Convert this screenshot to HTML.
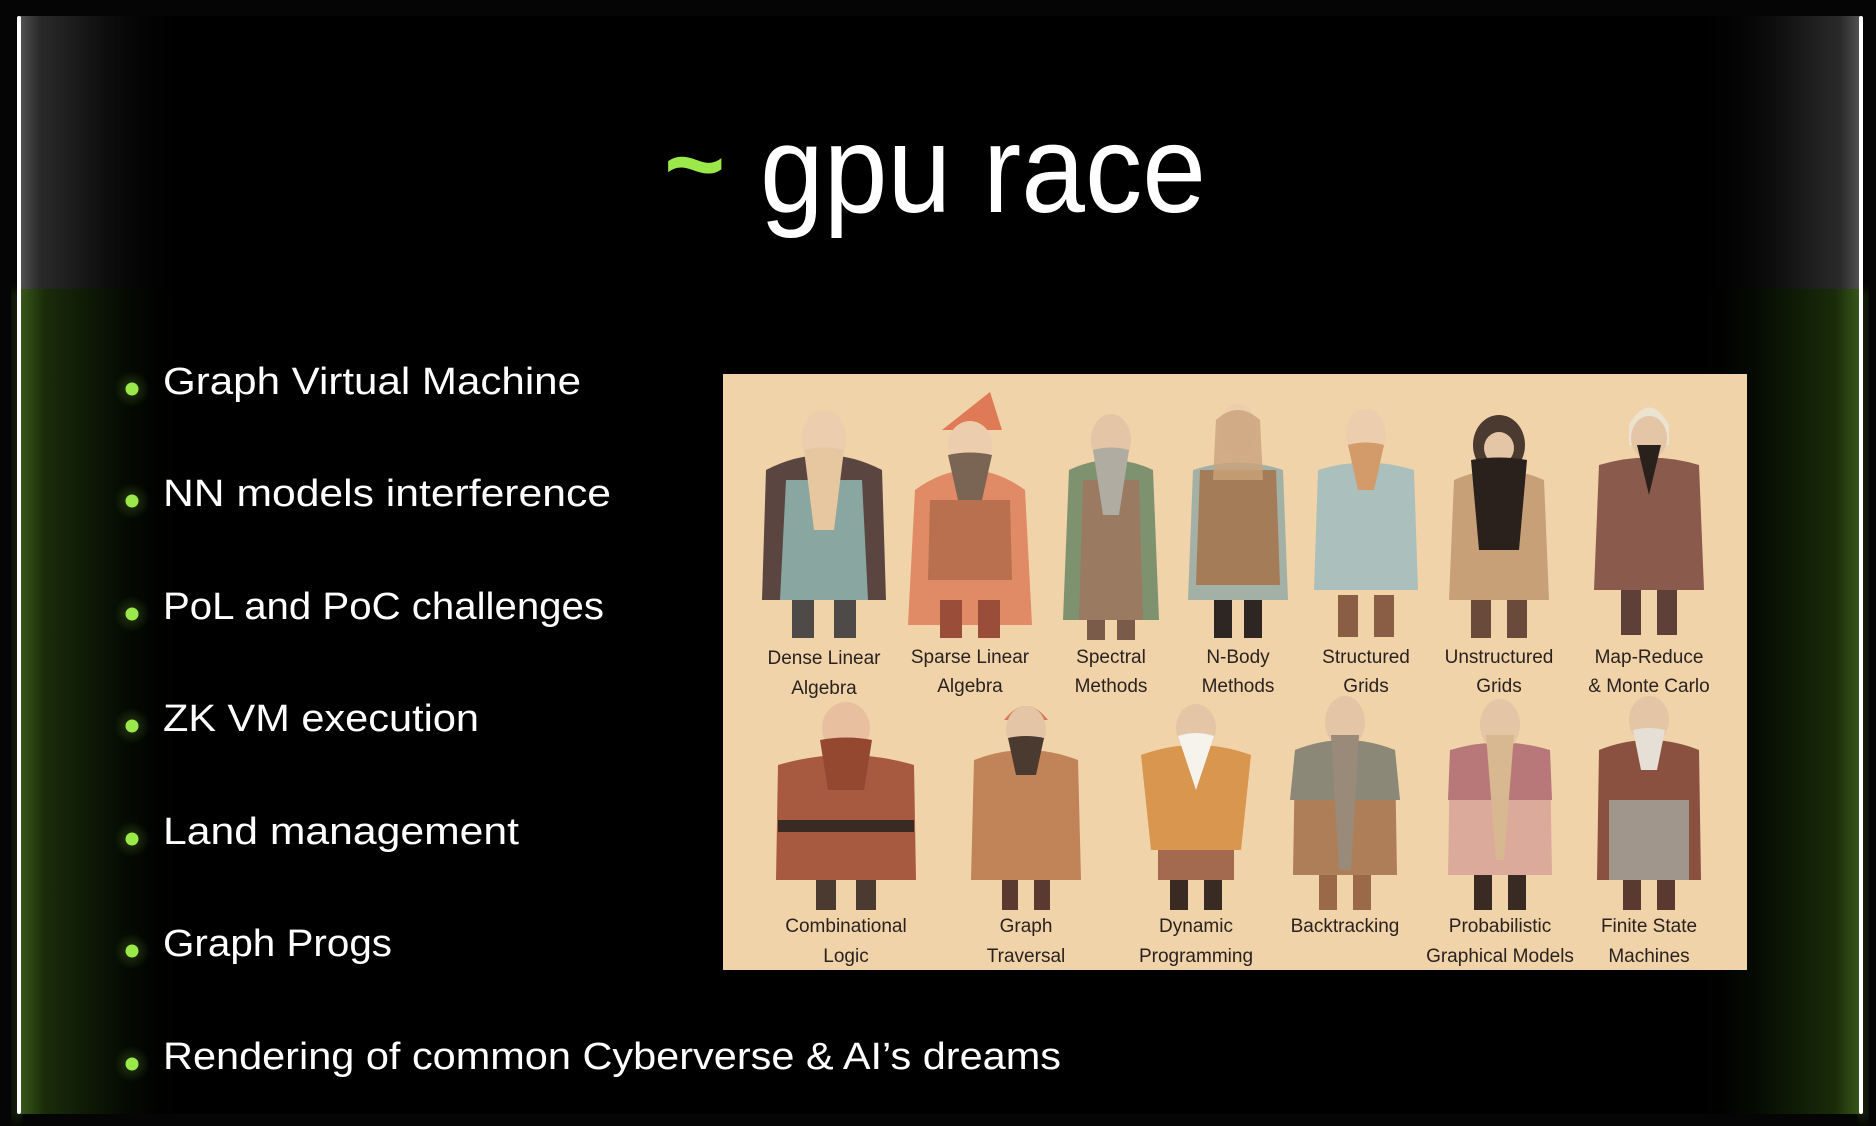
<!DOCTYPE html>
<html><head><meta charset="utf-8"><style>
html,body{margin:0;padding:0;background:#000;width:1876px;height:1126px;overflow:hidden}
svg{display:block}
.b{font-family:"Liberation Sans",sans-serif;fill:#fff;font-size:38px}
.l{font-family:"Liberation Sans",sans-serif;fill:#2a2220;font-size:19px;text-anchor:middle}
</style></head><body>
<svg width="1876" height="1126" viewBox="0 0 1876 1126" xmlns="http://www.w3.org/2000/svg">
<defs>
<linearGradient id="gL" x1="0" x2="1"><stop offset="0" stop-color="#555"/><stop offset="0.12" stop-color="#2a2a2a"/><stop offset="0.5" stop-color="#0e0e0e"/><stop offset="1" stop-color="#000" stop-opacity="0"/></linearGradient>
<linearGradient id="gR" x1="1" x2="0"><stop offset="0" stop-color="#555"/><stop offset="0.12" stop-color="#2a2a2a"/><stop offset="0.5" stop-color="#0e0e0e"/><stop offset="1" stop-color="#000" stop-opacity="0"/></linearGradient>
<linearGradient id="hL" x1="0" x2="1"><stop offset="0" stop-color="#3a5a1a"/><stop offset="0.15" stop-color="#1a2c0a"/><stop offset="0.5" stop-color="#0a1304"/><stop offset="1" stop-color="#000" stop-opacity="0"/></linearGradient>
<linearGradient id="hR" x1="1" x2="0"><stop offset="0" stop-color="#3a5a1a"/><stop offset="0.15" stop-color="#1a2c0a"/><stop offset="0.5" stop-color="#0a1304"/><stop offset="1" stop-color="#000" stop-opacity="0"/></linearGradient>
<radialGradient id="dot"><stop offset="0" stop-color="#9be84a" stop-opacity="0.22"/><stop offset="1" stop-color="#9be84a" stop-opacity="0"/></radialGradient>
<filter id="bl"><feGaussianBlur stdDeviation="5"/></filter>
</defs>
<rect width="1876" height="1126" fill="#050505"/>
<rect x="12" y="290" width="10" height="830" fill="#2e4a14" filter="url(#bl)" opacity="0.5"/>
<rect x="1858" y="290" width="10" height="830" fill="#2e4a14" filter="url(#bl)" opacity="0.5"/>
<rect x="17" y="16" width="1846" height="1098" rx="4" fill="#000"/>
<rect x="19" y="16" width="170" height="273" fill="url(#gL)"/>
<rect x="1691" y="16" width="170" height="273" fill="url(#gR)"/>
<rect x="19" y="289" width="170" height="825" fill="url(#hL)"/>
<rect x="1691" y="289" width="170" height="825" fill="url(#hR)"/>
<rect x="17" y="16" width="4" height="1098" rx="2" fill="#fff"/>
<rect x="1859" y="16" width="4" height="1098" rx="2" fill="#fff"/>

<text x="664" y="200" font-family="Liberation Sans,sans-serif" font-size="105" fill="#9be84a" font-weight="bold">~</text>
<text x="760" y="212" font-family="Liberation Sans,sans-serif" font-size="124" fill="#fff" textLength="446" lengthAdjust="spacingAndGlyphs">gpu race</text>

<g>
<circle cx="132" cy="389" r="18" fill="url(#dot)"/><circle cx="132" cy="389" r="6.5" fill="#9be84a"/>
<circle cx="132" cy="501" r="18" fill="url(#dot)"/><circle cx="132" cy="501" r="6.5" fill="#9be84a"/>
<circle cx="132" cy="614" r="18" fill="url(#dot)"/><circle cx="132" cy="614" r="6.5" fill="#9be84a"/>
<circle cx="132" cy="726" r="18" fill="url(#dot)"/><circle cx="132" cy="726" r="6.5" fill="#9be84a"/>
<circle cx="132" cy="839" r="18" fill="url(#dot)"/><circle cx="132" cy="839" r="6.5" fill="#9be84a"/>
<circle cx="132" cy="951" r="18" fill="url(#dot)"/><circle cx="132" cy="951" r="6.5" fill="#9be84a"/>
<circle cx="132" cy="1064" r="18" fill="url(#dot)"/><circle cx="132" cy="1064" r="6.5" fill="#9be84a"/>
</g>
<text class="b" x="163" y="394" textLength="418" lengthAdjust="spacingAndGlyphs">Graph Virtual Machine</text>
<text class="b" x="163" y="506" textLength="448" lengthAdjust="spacingAndGlyphs">NN models interference</text>
<text class="b" x="163" y="619" textLength="441" lengthAdjust="spacingAndGlyphs">PoL and PoC challenges</text>
<text class="b" x="163" y="731" textLength="316" lengthAdjust="spacingAndGlyphs">ZK VM execution</text>
<text class="b" x="163" y="844" textLength="356" lengthAdjust="spacingAndGlyphs">Land management</text>
<text class="b" x="163" y="956" textLength="229" lengthAdjust="spacingAndGlyphs">Graph Progs</text>
<text class="b" x="163" y="1069" textLength="898" lengthAdjust="spacingAndGlyphs">Rendering of common Cyberverse &amp; AI’s dreams</text>

<rect x="723" y="374" width="1024" height="596" fill="#efd1a6"/>
<rect x="723" y="374" width="1024" height="596" fill="#f3d7ad" opacity="0.4"/>

<g>
<g transform="translate(824,400)">
<path d="M-58,70 Q0,40 58,70 L62,200 L-62,200 Z" fill="#5a4540"/><path d="M-38,80 L38,80 L44,200 L-44,200 Z" fill="#8aa6a0"/>
<ellipse cx="0" cy="38" rx="22" ry="28" fill="#eccdad"/><path d="M-20,50 Q0,45 20,50 L10,130 L-10,130 Z" fill="#e6c7a0"/>
<rect x="-32" y="200" width="22" height="38" fill="#4e4a48"/><rect x="10" y="200" width="22" height="38" fill="#4e4a48"/></g>
<g transform="translate(970,400)">
<path d="M-55,90 Q0,50 55,90 L62,225 L-62,225 Z" fill="#e08a66"/><path d="M-40,100 L40,100 L42,180 L-42,180 Z" fill="#b8704e"/>
<path d="M-28,30 L20,-8 L32,30 Z" fill="#df7a56"/><ellipse cx="0" cy="45" rx="22" ry="24" fill="#eccdad"/><path d="M-22,55 Q0,50 22,55 L12,100 L-12,100 Z" fill="#7a6454"/>
<rect x="-30" y="200" width="22" height="38" fill="#9a4e3a"/><rect x="8" y="200" width="22" height="38" fill="#9a4e3a"/></g>
<g transform="translate(1111,400)">
<path d="M-42,70 Q0,50 42,70 L48,220 L-48,220 Z" fill="#7f9270"/><path d="M-28,80 L28,80 L32,220 L-32,220 Z" fill="#9a7a60"/>
<ellipse cx="0" cy="40" rx="20" ry="26" fill="#e4c5a5"/><path d="M-18,50 Q0,45 18,50 L8,115 L-8,115 Z" fill="#b0aca2"/>
<rect x="-24" y="220" width="18" height="20" fill="#7a5a48"/><rect x="6" y="220" width="18" height="20" fill="#7a5a48"/></g>
<g transform="translate(1238,400)">
<path d="M-45,70 Q0,55 45,70 L50,200 L-50,200 Z" fill="#8fa8a4" opacity="0.8"/><path d="M-38,70 L38,70 L42,185 L-42,185 Z" fill="#a47c58"/>
<ellipse cx="0" cy="30" rx="19" ry="26" fill="#eccdad"/><path d="M-22,20 Q0,0 22,20 L25,80 L-25,80 Z" fill="#caa37a" opacity="0.8"/>
<rect x="-24" y="200" width="18" height="38" fill="#2e2622"/><rect x="6" y="200" width="18" height="38" fill="#2e2622"/></g>
<g transform="translate(1366,400)">
<path d="M-48,70 Q0,55 48,70 L52,190 L-52,190 Z" fill="#abc0bc"/>
<ellipse cx="0" cy="35" rx="20" ry="26" fill="#eccdad"/><path d="M-18,45 Q0,40 18,45 L8,90 L-8,90 Z" fill="#d39a6a"/>
<rect x="-28" y="195" width="20" height="42" fill="#8a5e44"/><rect x="8" y="195" width="20" height="42" fill="#8a5e44"/></g>
<g transform="translate(1499,400)">
<path d="M-45,80 Q0,60 45,80 L50,200 L-50,200 Z" fill="#c8a078"/>
<ellipse cx="0" cy="45" rx="26" ry="30" fill="#4a3a30"/><ellipse cx="0" cy="48" rx="15" ry="16" fill="#e4c5a5"/><path d="M-28,60 Q0,55 28,60 L20,150 L-20,150 Z" fill="#2a201c"/>
<rect x="-28" y="200" width="20" height="38" fill="#6a4a3a"/><rect x="8" y="200" width="20" height="38" fill="#6a4a3a"/></g>
<g transform="translate(1649,400)">
<path d="M-50,65 Q0,50 50,65 L55,190 L-55,190 Z" fill="#8a5a4c"/>
<path d="M-20,25 Q0,-10 20,25 L20,45 L-20,45 Z" fill="#ece2d0"/><ellipse cx="0" cy="38" rx="18" ry="22" fill="#e4c5a5"/><path d="M-12,45 L12,45 L0,95 Z" fill="#2a201c"/>
<rect x="-28" y="190" width="20" height="45" fill="#5e4038"/><rect x="8" y="190" width="20" height="45" fill="#5e4038"/></g>
<g transform="translate(846,700)">
<path d="M-68,65 Q0,45 68,65 L70,180 L-70,180 Z" fill="#a85a40"/><rect x="-68" y="120" width="136" height="12" fill="#3a2a24"/>
<ellipse cx="0" cy="28" rx="24" ry="26" fill="#e8c0a0"/><path d="M-26,40 Q0,35 26,40 L18,90 L-18,90 Z" fill="#944830"/>
<rect x="-30" y="180" width="20" height="30" fill="#4a3a30"/><rect x="10" y="180" width="20" height="30" fill="#4a3a30"/></g>
<g transform="translate(1026,700)">
<path d="M-52,60 Q0,40 52,60 L55,180 L-55,180 Z" fill="#c08458"/>
<path d="M-22,20 Q0,-8 22,20 Z" fill="#d87a55"/><ellipse cx="0" cy="30" rx="20" ry="24" fill="#e4c5a5"/><path d="M-18,38 Q0,34 18,38 L10,75 L-10,75 Z" fill="#4a3a30"/>
<rect x="-24" y="180" width="16" height="30" fill="#5a3a30"/><rect x="8" y="180" width="16" height="30" fill="#5a3a30"/></g>
<g transform="translate(1196,700)">
<path d="M-55,55 Q0,35 55,55 L45,150 L-45,150 L-55,55 Z" fill="#d8964e"/><rect x="-38" y="150" width="76" height="30" fill="#a46a50"/>
<ellipse cx="0" cy="28" rx="20" ry="24" fill="#e4c5a5"/><path d="M-18,36 Q0,30 18,36 L0,90 Z" fill="#f6f2ec"/>
<rect x="-26" y="180" width="18" height="30" fill="#3a2a24"/><rect x="8" y="180" width="18" height="30" fill="#3a2a24"/></g>
<g transform="translate(1345,700)">
<path d="M-50,55 Q0,35 50,55 L52,175 L-52,175 Z" fill="#ae7e58"/><path d="M-50,50 Q0,30 50,50 L55,100 L-55,100 Z" fill="#8c8878"/>
<ellipse cx="0" cy="22" rx="20" ry="26" fill="#e4c5a5"/><path d="M-14,35 L14,35 L6,170 L-6,170 Z" fill="#9a8a7a"/>
<rect x="-26" y="175" width="18" height="35" fill="#9a6a48"/><rect x="8" y="175" width="18" height="35" fill="#9a6a48"/></g>
<g transform="translate(1500,700)">
<path d="M-50,55 Q0,35 50,55 L52,175 L-52,175 Z" fill="#dcaa9a"/><path d="M-50,50 Q0,35 50,50 L52,100 L-52,100 Z" fill="#b8787a"/>
<ellipse cx="0" cy="25" rx="20" ry="26" fill="#e4c5a5"/><path d="M-14,35 L14,35 L4,160 L-4,160 Z" fill="#d8b890"/>
<rect x="-26" y="175" width="18" height="35" fill="#3a2a24"/><rect x="8" y="175" width="18" height="35" fill="#3a2a24"/></g>
<g transform="translate(1649,700)">
<path d="M-50,50 Q0,30 50,50 L52,180 L-52,180 Z" fill="#8a5040"/><path d="M-40,100 L40,100 L40,180 L-40,180 Z" fill="#a0968c"/>
<ellipse cx="0" cy="20" rx="20" ry="24" fill="#e4c5a5"/><path d="M-16,30 Q0,26 16,30 L8,70 L-8,70 Z" fill="#e6dfd6"/>
<rect x="-26" y="180" width="18" height="30" fill="#5a3a30"/><rect x="8" y="180" width="18" height="30" fill="#5a3a30"/></g>
</g>

<text class="l" x="824" y="664">Dense Linear</text><text class="l" x="824" y="694">Algebra</text>
<text class="l" x="970" y="663">Sparse Linear</text><text class="l" x="970" y="692">Algebra</text>
<text class="l" x="1111" y="663">Spectral</text><text class="l" x="1111" y="692">Methods</text>
<text class="l" x="1238" y="663">N-Body</text><text class="l" x="1238" y="692">Methods</text>
<text class="l" x="1366" y="663">Structured</text><text class="l" x="1366" y="692">Grids</text>
<text class="l" x="1499" y="663">Unstructured</text><text class="l" x="1499" y="692">Grids</text>
<text class="l" x="1649" y="663">Map-Reduce</text><text class="l" x="1649" y="692">&amp; Monte Carlo</text>
<text class="l" x="846" y="932">Combinational</text><text class="l" x="846" y="962">Logic</text>
<text class="l" x="1026" y="932">Graph</text><text class="l" x="1026" y="962">Traversal</text>
<text class="l" x="1196" y="932">Dynamic</text><text class="l" x="1196" y="962">Programming</text>
<text class="l" x="1345" y="932">Backtracking</text>
<text class="l" x="1500" y="932">Probabilistic</text><text class="l" x="1500" y="962">Graphical Models</text>
<text class="l" x="1649" y="932">Finite State</text><text class="l" x="1649" y="962">Machines</text>
</svg>
</body></html>
